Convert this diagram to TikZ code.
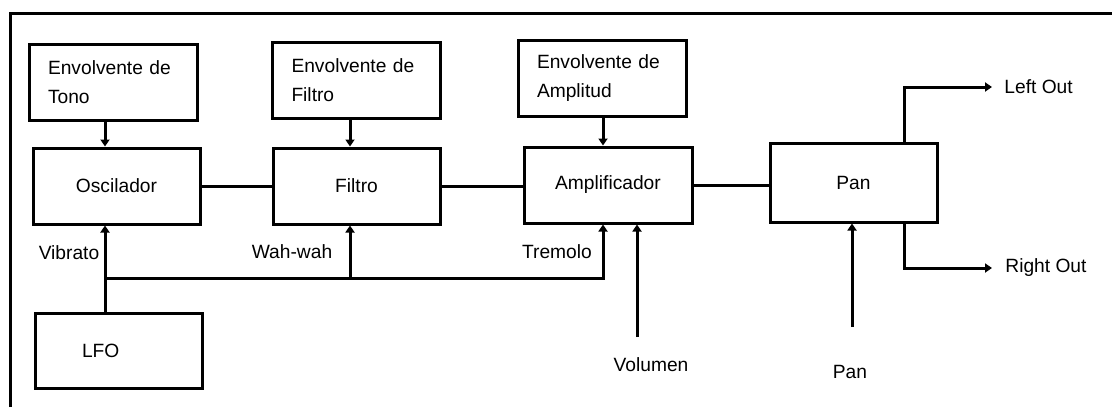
\documentclass[tikz,border=0pt]{standalone}
\usepackage{fontspec}
\setmainfont{Liberation Sans}
\usetikzlibrary{arrows.meta}

\tikzset{
	block/.style={draw, line width=1.5pt, minimum width=83.5pt, minimum height=38pt, inner sep=0pt},
	envbox/.style={draw, line width=1.5pt, text width=65pt, inner xsep=9.5pt, inner ysep=0pt, minimum height=38pt, align=left},
	wire/.style={line width=1.5pt},
	sig/.style={line width=1.5pt, -{Triangle[width=4.5pt,length=3.5pt]}},
	lbl/.style={inner sep=2pt}
}

\begin{document}
\begin{tikzpicture}[x=0.5pt, y=-0.5pt, font=\fontsize{9.6pt}{14.5pt}\selectfont]
	\useasboundingbox (0,0) rectangle (1112,407);
	%frame
	\draw[wire, line join=miter] (10,407) -- (10,13) -- (1112,13);
	%envelopes
	\node[envbox] (envtono) at (113,82) {Envolvente de\\Tono};
	\node[envbox] (envfiltro) at (356.5,80) {Envolvente de\\Filtro};
	\node[envbox] (envamp) at (602,78.5) {Envolvente de\\Amplitud};
	%main chain
	\node[block] (osc) at (116.5,186) {Oscilador};
	\node[block] (filtro) at (356.5,186) {Filtro};
	\node[block, minimum width=84pt] (amp) at (608,185) {Amplificador};
	\node[block, minimum height=39.5pt] (pan) at (853.5,182.5) {Pan};
	\node[block, text width=36.5pt, inner xsep=23.5pt, minimum height=37.5pt, align=left] (lfo) at (118.5,350.5) {LFO};
	%modulation taps
	\coordinate (vib) at (105,278);
	\coordinate (wah) at (350,278);
	\coordinate (trem) at (603,278);
	\coordinate (volin) at (637,337);
	\coordinate (panin) at (852,327);
	\coordinate (outs) at (904,183);
	%labels
	\node[lbl] (vibrato) at (69,253) {Vibrato};
	\node[lbl] (wahwah) at (292,252) {Wah-wah};
	\node[lbl] (tremolo) at (557,252) {Tremolo};
	\node[lbl] (volumen) at (651,365) {Volumen};
	\node[lbl] (panlbl) at (850,372) {Pan};
	\node[lbl, anchor=west] (leftout) at (1000,87) {Left Out};
	\node[lbl, anchor=west] (rightout) at (1001,268) {Right Out};
	%connections
	\draw[wire] (osc.east) -- (osc.east -| filtro.west);
	\draw[wire] (filtro.east) -- (filtro.east -| amp.west);
	\draw[wire] (amp.east) -- (amp.east -| pan.west);
	\draw[sig] (envtono.south -| vib) -- (osc.north -| vib);
	\draw[sig] (envfiltro.south -| wah) -- (filtro.north -| wah);
	\draw[sig] (envamp.south -| trem) -- (amp.north -| trem);
	\draw[sig] (lfo.north -| vib) -- (osc.south -| vib);
	\draw[wire] (vib) -- (wah);
	\draw[sig] (vib) -| (filtro.south -| wah);
	\draw[sig] (wah) -| (amp.south -| trem);
	\draw[sig] (volin) -- (amp.south -| volin);
	\draw[sig] (panin) -- (pan.south -| panin);
	\draw[sig] (pan.north -| outs) |- ([xshift=-4pt]leftout.west);
	\draw[sig] (pan.south -| outs) |- ([xshift=-4.5pt]rightout.west);
\end{tikzpicture}
\end{document}
